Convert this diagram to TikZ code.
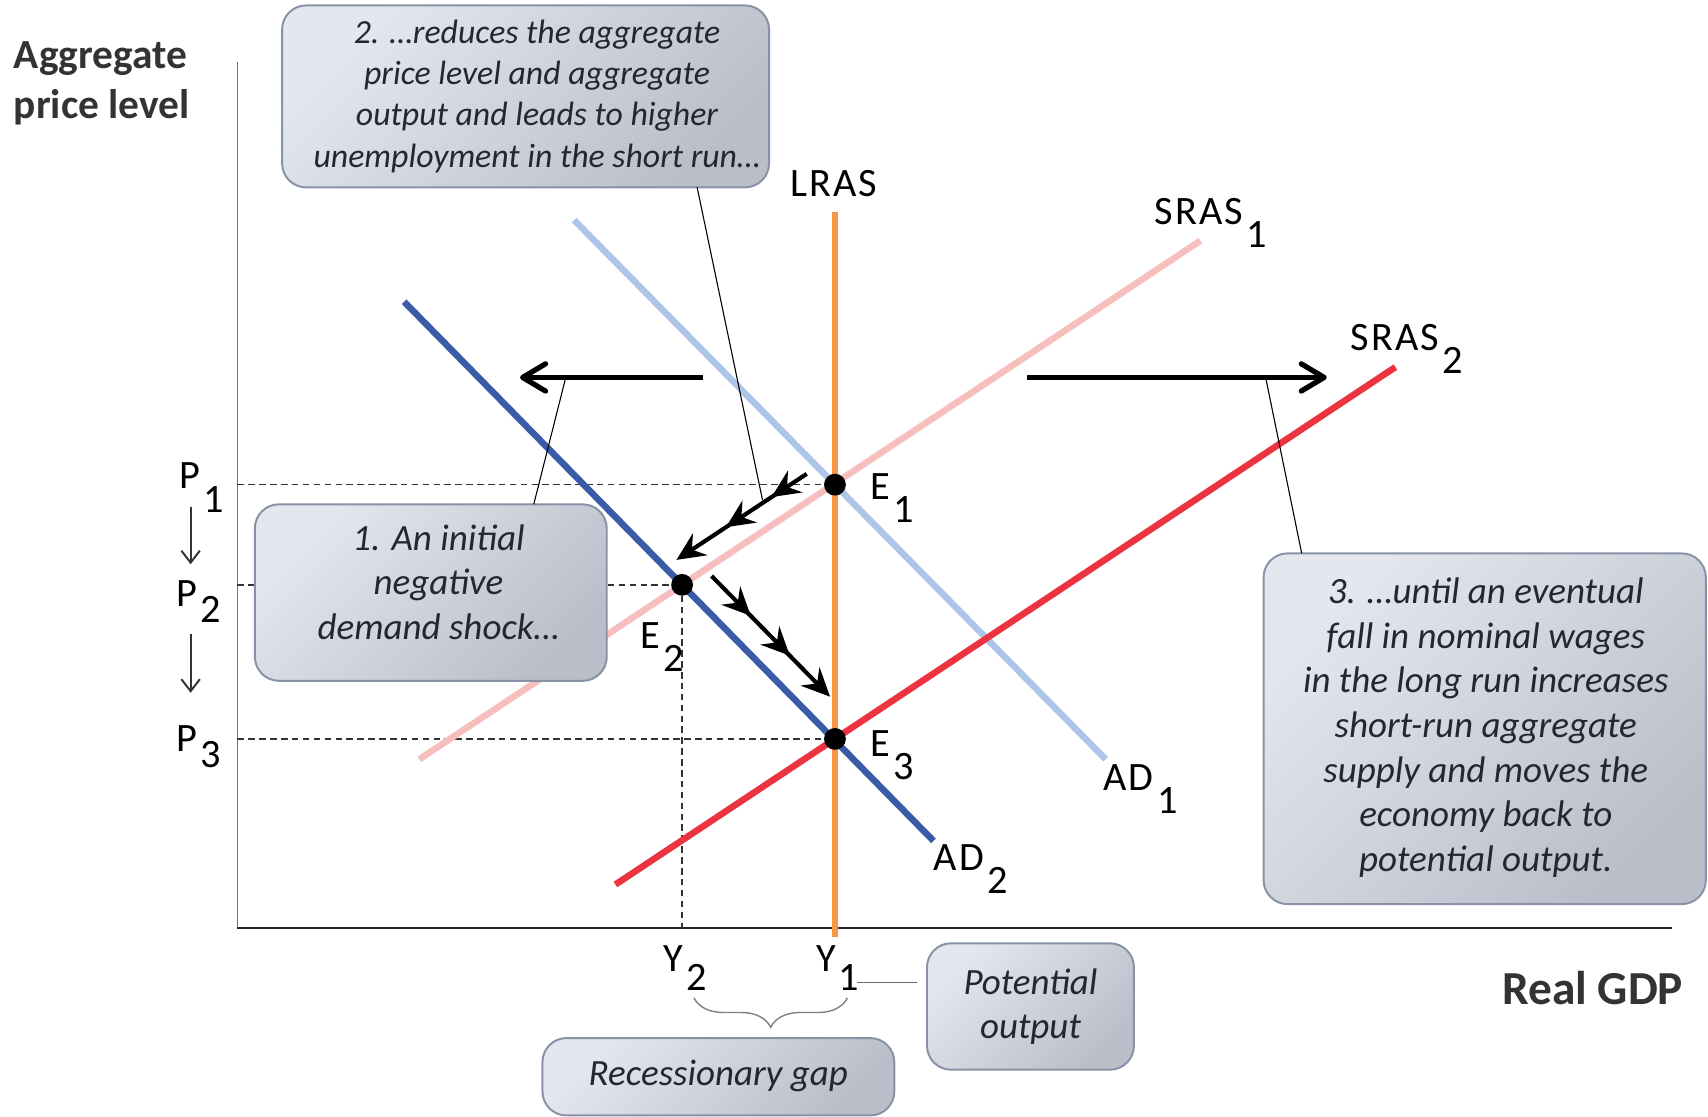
\documentclass[tikz,border=0pt]{standalone}
\usepackage{fontspec}
\setmainfont{Carlito}
\newfontfamily\labfont[LetterSpace=5]{Carlito}
\usetikzlibrary{arrows.meta,decorations.markings,decorations.pathreplacing,intersections}
\definecolor{lrascol}{HTML}{F79646}
\definecolor{adonecol}{HTML}{AEC5E8}
\definecolor{adtwocol}{HTML}{3A5BA8}
\definecolor{srasonecol}{HTML}{F7BEBE}
\definecolor{srastwocol}{HTML}{EC3440}
\definecolor{boxtop}{HTML}{E4E7EE}
\definecolor{boxbot}{HTML}{B9BEC9}
\definecolor{boxline}{HTML}{8792A6}
\definecolor{boxtxt}{HTML}{262630}
\definecolor{titlecol}{HTML}{333333}
\newcommand\sublab[3][0.57em]{#2\hspace{0.08em}\raisebox{-#1}{#3}}
\begin{document}
\begin{tikzpicture}[x=1pt,y=-1pt,
  curve/.style={line width=6pt},
  guide/.style={draw=black!80, line width=1.3pt, dash pattern=on 6pt off 4pt},
  eqdot/.style={circle, fill=black, inner sep=0pt, minimum size=20pt},
  lab/.style={font={\labfont\fontsize{37}{44}\selectfont}, inner sep=0pt, anchor=base west},
  box/.style={draw=boxline, line width=1.8pt, rounded corners=22pt, top color=boxtop, bottom color=boxbot, shading angle=45, inner sep=0pt},
  boxtext/.style={font={\itshape\fontsize{34}{41}\selectfont}, text=boxtxt, align=center, inner sep=0pt},
  callout/.style={draw=black, line width=1pt},
  shiftarrow/.style={line width=4.8pt, -{Straight Barb[length=21pt,width=25pt,round]}},
  pricearrow/.style={draw=black!80, line width=1.8pt, -{Straight Barb[length=11pt,width=17pt]}},
  movearrow/.style 2 args={line width=3.8pt, -{Stealth[length=26pt,width=24pt,inset=9pt]},
    postaction={decorate}, decoration={markings,
      mark=at position #1 with {\arrow{Stealth[length=26pt,width=24pt,inset=9pt]}},
      mark=at position #2 with {\arrow{Stealth[length=26pt,width=24pt,inset=9pt]}}}},
]
\useasboundingbox (0,0) rectangle (1568,1025);

% axes
\coordinate (O) at (218,852);
\coordinate (ytop) at (218,57);
\coordinate (xend) at (1535,852);
\draw[draw=black!55, line width=1.5pt] (ytop) -- (O);
\draw[draw=black!85, line width=1.5pt] (O) -- (xend);

% curve end points
\coordinate (lrasT) at (766.5,195);
\coordinate (lrasB) at (766.5,860);
\coordinate (adoneA) at (527,202);
\coordinate (adoneB) at (1015,697);
\coordinate (adtwoA) at (371,277);
\coordinate (adtwoB) at (857,772);
\coordinate (srasoneA) at (385,697);
\coordinate (srasoneB) at (1102,221);
\coordinate (srastwoA) at (565,812);
\coordinate (srastwoB) at (1281,337);

\path[name path=lras] (lrasT) -- (lrasB);
\path[name path=adone] (adoneA) -- (adoneB);
\path[name path=adtwo] (adtwoA) -- (adtwoB);
\path[name path=srasone] (srasoneA) -- (srasoneB);
\path[name path=srastwo] (srastwoA) -- (srastwoB);
\path[name intersections={of=lras and adone, by=E1pt}];
\path[name intersections={of=adtwo and srasone, by=E2pt}];
\path[name intersections={of=lras and srastwo, by=E3pt}];

% guides
\draw[guide] (E1pt -| O) -- (E1pt);
\draw[guide] (E2pt -| O) -- (E2pt);
\draw[guide] (E3pt -| O) -- (E3pt);
\draw[guide] (E2pt) -- (E2pt |- O);

% curves
\draw[curve, srasonecol] (srasoneA) -- (srasoneB);
\draw[curve, adonecol] (adoneA) -- (adoneB);
\draw[curve, adtwocol] (adtwoA) -- (adtwoB);
\draw[curve, srastwocol] (srastwoA) -- (srastwoB);
\draw[curve, lrascol, line width=5.5pt] (lrasT) -- (lrasB);

% equilibria
\node[eqdot] (E1) at (E1pt) {};
\node[eqdot] (E2) at (E2pt) {};
\node[eqdot] (E3) at (E3pt) {};

% shift arrows
\coordinate (lsA) at (645.7,346.5);
\coordinate (lsB) at (477.4,346.5);
\coordinate (rsA) at (943,346.5);
\coordinate (rsB) at (1218,346.5);
\draw[shiftarrow] (lsA) -- (lsB);
\draw[shiftarrow] (rsA) -- (rsB);

% movement arrows
\coordinate (mAa) at (740.6,435);
\coordinate (mAb) at (621,514);
\coordinate (mBa) at (653.3,528.8);
\coordinate (mBb) at (762,639.6);
\draw[movearrow={0.27}{0.62}] (mAa) -- (mAb);
\draw[movearrow={0.33}{0.66}] (mBa) -- (mBb);

% price arrows
\coordinate (paA) at (175,465);
\coordinate (paB) at (175,518);
\coordinate (pbA) at (175,582);
\coordinate (pbB) at (175,636);
\draw[pricearrow] (paA) -- (paB);
\draw[pricearrow] (pbA) -- (pbB);

% labels
\node[lab, anchor=base] (lLRAS) at (765.5,180) {LRAS};
\node[lab] (lSRASone) at (1060,206.5) {\sublab{SRAS}{1}};
\node[lab] (lSRAStwo) at (1240,321.5) {\sublab{SRAS}{2}};
\node[lab] (lADone) at (1013,725.5) {\sublab{AD}{1}};
\node[lab] (lADtwo) at (857,799.5) {\sublab{AD}{2}};
\node[lab] (lEone) at (799,459) {\sublab{E}{1}};
\node[lab] (lEtwo) at (588,595) {\sublab{E}{2}};
\node[lab] (lEthree) at (799,694.5) {\sublab{E}{3}};
\node[lab] (lPone) at (165,448) {\sublab[0.62em]{P}{1}};
\node[lab] (lPtwo) at (162,557) {\sublab[0.38em]{P}{2}};
\node[lab] (lPthree) at (162,690) {\sublab[0.4em]{P}{3}};
\node[lab] (lYtwo) at (609,891.5) {\sublab[0.49em]{Y}{2}};
\node[lab] (lYone) at (749,891.5) {\sublab[0.49em]{Y}{1}};

% axis titles
\node[font={\bfseries\fontsize{38}{46}\selectfont}, text=titlecol, align=left, inner sep=0pt, anchor=north west] (ytitle) at (12.6,38) {Aggregate\\price level};
\node[font={\bfseries\fontsize{43.5}{50}\selectfont}, text=titlecol, inner sep=0pt, anchor=base west] (xtitle) at (1379,922.6) {Real GDP};

% brace
\coordinate (brA) at (637,916);
\coordinate (brB) at (778,916);
\draw[decorate, decoration={brace, mirror, amplitude=27pt}, draw=black!50, line width=1.3pt] (brA) -- (brB);

% boxes
\node[box, minimum width=447pt, minimum height=167pt] (b2) at (482.5,88.5) {};
\node[boxtext, font={\itshape\fontsize{31}{37.7}\selectfont}] (t2) at (493,88.5) {2. …reduces the aggregate\\price level and aggregate\\output and leads to higher\\unemployment in the short run…};
\node[box, minimum width=323pt, minimum height=162pt] (b1) at (395.5,544) {};
\node[boxtext] (t1) at (402.5,534.5) {1. An initial\\negative\\demand shock…};
\node[box, minimum width=406pt, minimum height=322pt] (b3) at (1363,669) {};
\node[boxtext] (t3) at (1364,668) {3. …until an eventual\\fall in nominal wages\\in the long run increases\\short-run aggregate\\supply and moves the\\economy back to\\potential output.};
\node[box, minimum width=190pt, minimum height=116pt] (bpo) at (946,924) {};
\node[boxtext] (tpo) at (946,924) {Potential\\output};
\node[box, minimum width=323pt, minimum height=71pt] (brg) at (659.5,988.5) {};
\node[boxtext] (trg) at (659.5,988) {Recessionary gap};

% callouts
\coordinate (cTwoA) at (640,172);
\coordinate (cTwoB) at (700,459);
\coordinate (cOneA) at (490,463);
\coordinate (cOneB) at (519,348);
\coordinate (cThreeA) at (1195,508);
\coordinate (cThreeB) at (1162,347);
\draw[callout] (cTwoA) -- (cTwoB);
\draw[callout] (cOneA) -- (cOneB);
\draw[callout] (cThreeA) -- (cThreeB);
\coordinate (po) at (787,902);
\draw[draw=black!60, line width=1.2pt] (po) -- ([xshift=-8pt]bpo.west |- po);
\end{tikzpicture}
\end{document}
